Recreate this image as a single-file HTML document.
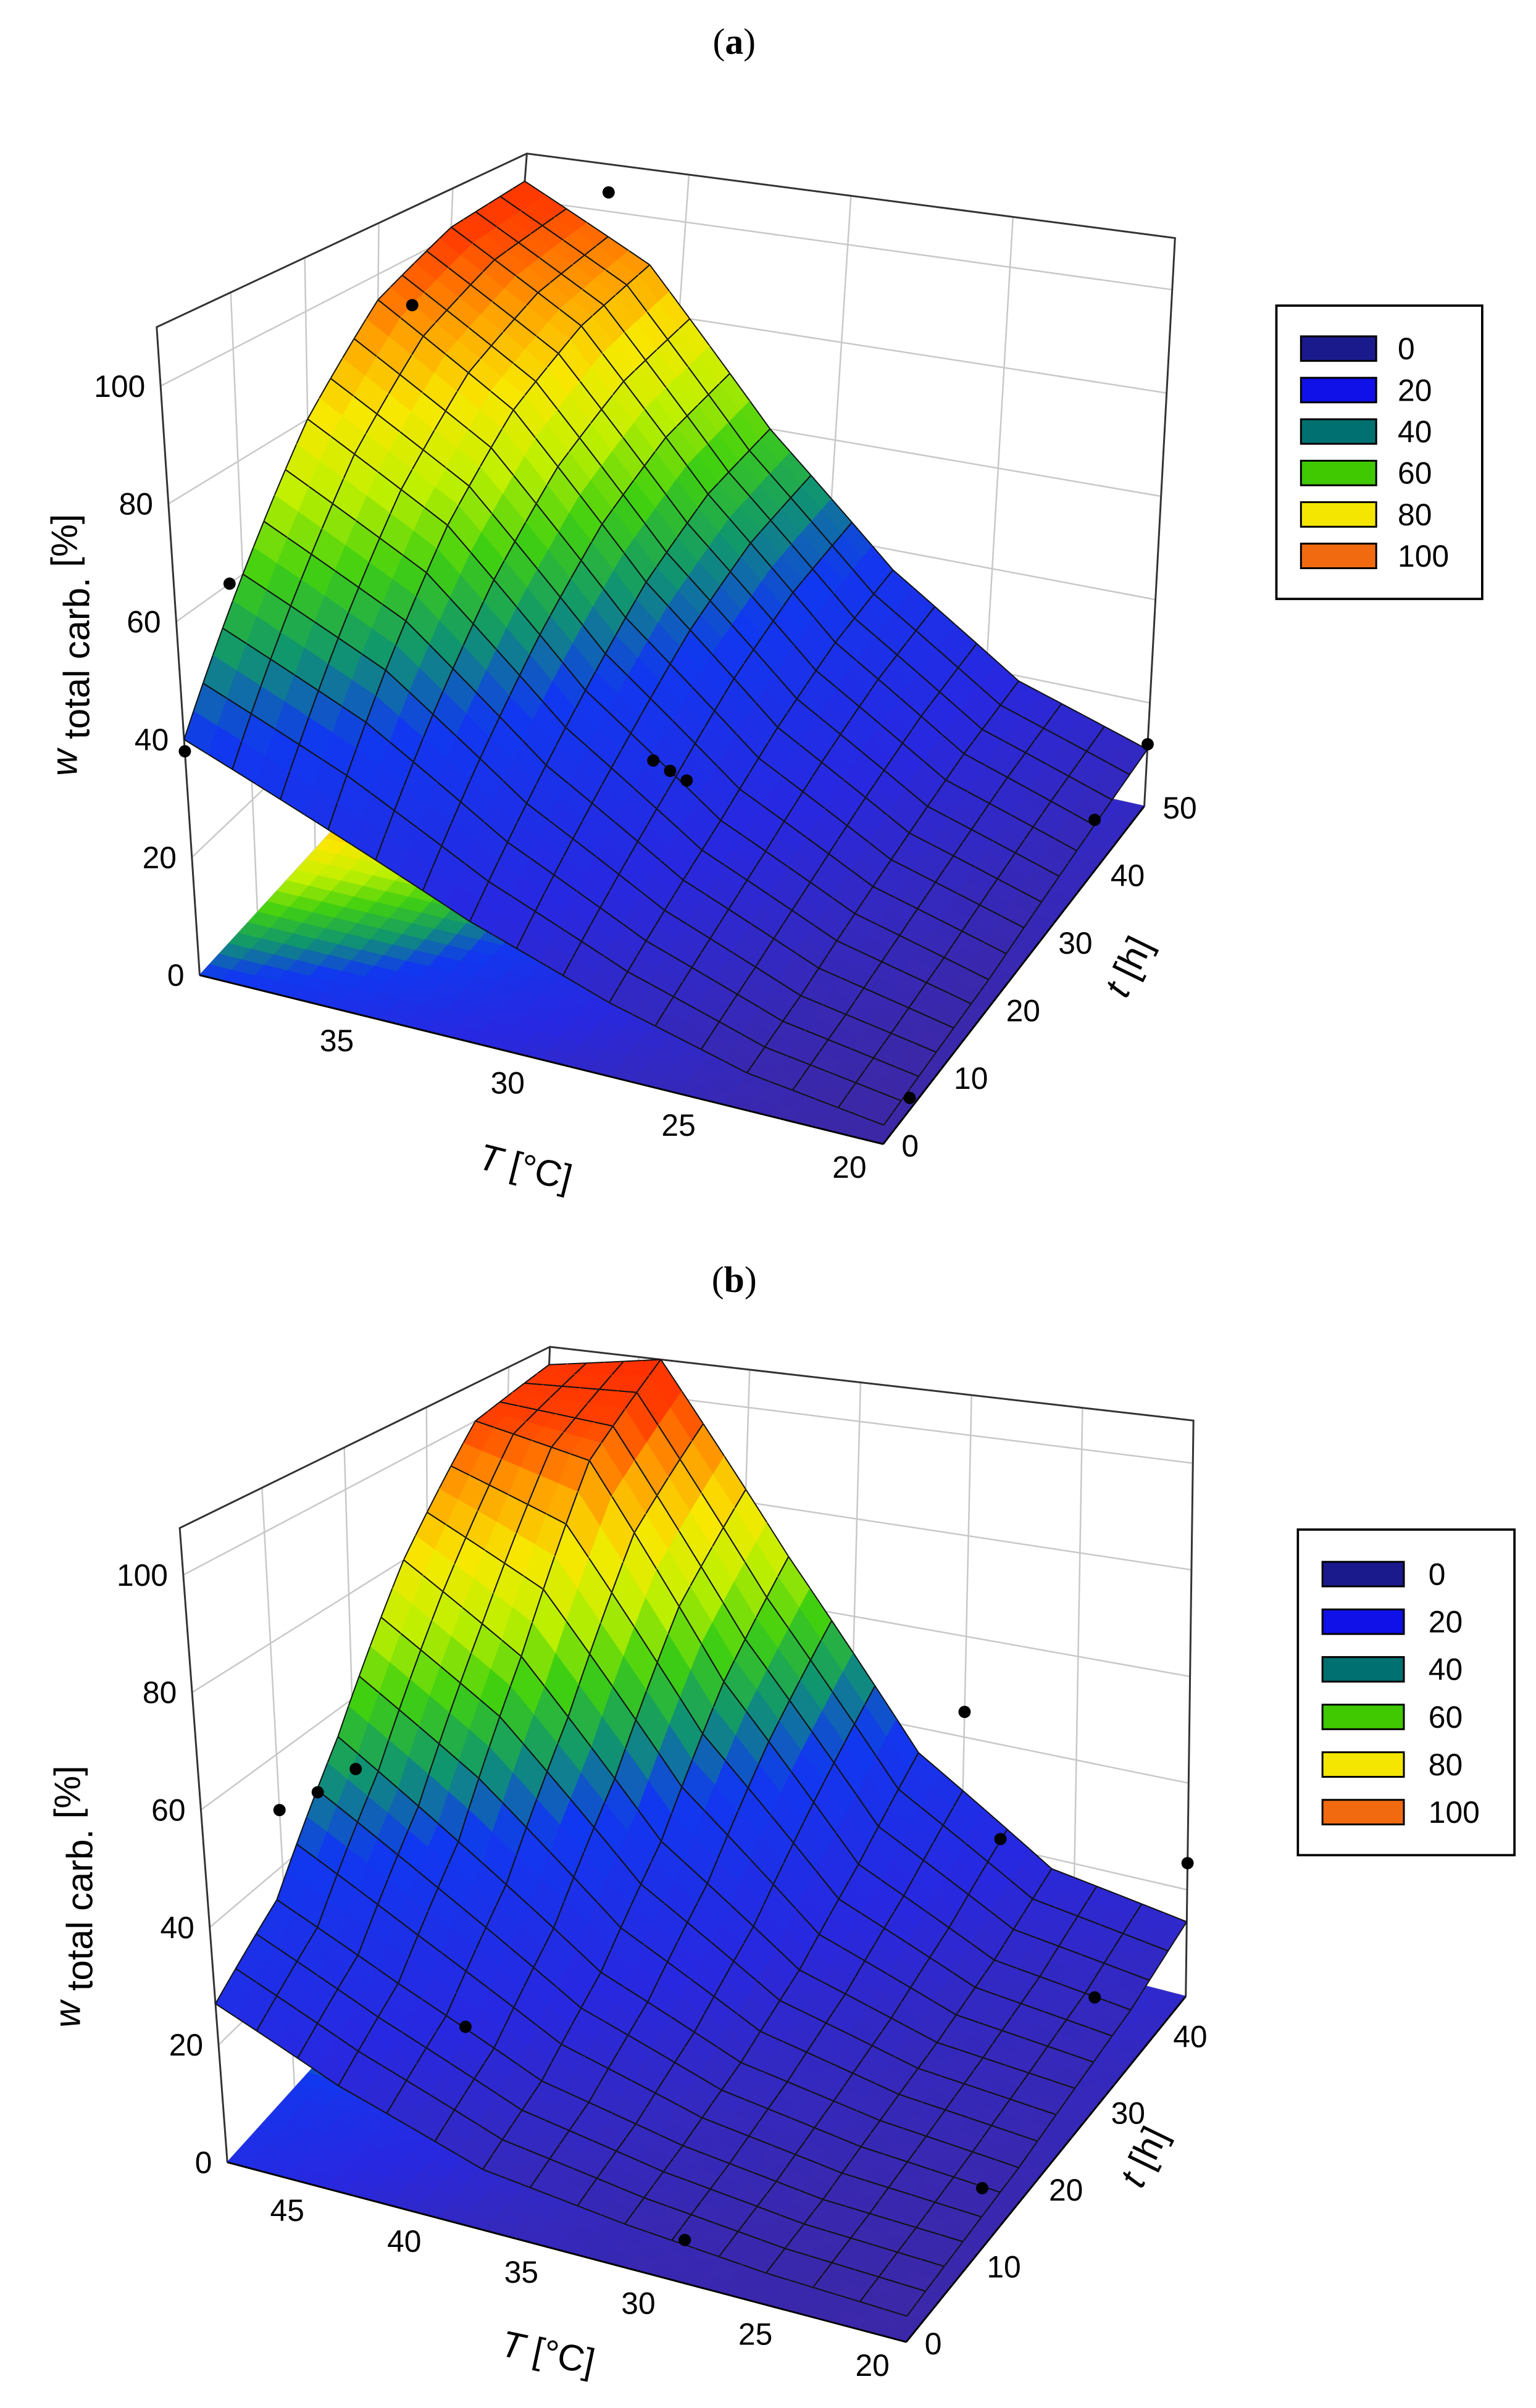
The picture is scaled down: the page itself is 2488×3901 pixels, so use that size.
<!DOCTYPE html>
<html><head><meta charset="utf-8"><style>
html,body{margin:0;padding:0;background:#fff}
svg{display:block}
text{font-family:"Liberation Sans",sans-serif;fill:#000}
</style></head><body>
<svg id="fig" xmlns="http://www.w3.org/2000/svg" width="2488" height="3901" viewBox="0 0 1000 1568">
<rect x="0" y="0" width="1000" height="1568" fill="#fff"/>
<text x="478" y="35" text-anchor="middle" style="font-family:'Liberation Serif',serif;font-size:24px">(<tspan font-weight="bold">a</tspan>)</text>
<text x="478" y="841" text-anchor="middle" style="font-family:'Liberation Serif',serif;font-size:24px">(<tspan font-weight="bold">b</tspan>)</text>
<g id="chartA"></g>
<g id="chartB"></g>
</svg>
<script>
// ---- Chart (a) data ----
const aTemps = [20, 24, 28, 32, 36, 40];
const aTimes = [0, 10, 20, 30, 40, 50];
const aZ = [ // rows by time, columns by temperature
  [3, 6, 12, 20, 30, 40],
  [4, 8, 17, 30, 48, 60],
  [5, 11, 22, 40, 65, 80],
  [7, 14, 28, 50, 78, 95],
  [9, 17, 33, 57, 86, 102],
  [11, 19, 36, 60, 90, 104]
];
const aPtT = [40, 40, 39, 37, 30, 30, 30, 20, 20, 20];
const aPtt = [0, 8, 30, 48, 20, 23, 26, 50, 40, 5];
const aPtZ = [38, 60, 95, 106, 30, 25, 20, 12, 10, 2];
const aZTicks = [0, 20, 40, 60, 80, 100];
const aTTicks = [20, 25, 30, 35];
const atTicks = [0, 10, 20, 30, 40, 50];
const aLegend = ['0', '20', '40', '60', '80', '100'];

// ---- Chart (b) data ----
const bTemps = [20, 26, 32, 38, 44, 49];
const bTimes = [0, 9, 18, 27, 36, 45];
const bZ = [
  [4, 5, 7, 10, 18, 27],
  [5, 6, 9, 14, 25, 35],
  [6, 8, 12, 22, 40, 55],
  [8, 10, 17, 35, 65, 80],
  [10, 13, 25, 55, 95, 100],
  [14, 18, 35, 70, 108, 104]
];
const bPtT = [49, 48, 47, 40, 30, 30, 20, 20, 20, 25];
const bPtt = [10, 12, 14, 5, 45, 2, 45, 30, 12, 33];
const bPtZ = [50, 52, 55, 26, 45, 4, 25, 20, 10, 40];
const bZTicks = [0, 20, 40, 60, 80, 100];
const bTTicks = [20, 25, 30, 35, 40, 45];
const btTicks = [0, 10, 20, 30, 40];
const bLegend = ['0', '20', '40', '60', '80', '100'];

const legendColors = ['#1a1a8c', '#1010e8', '#007070', '#40c800', '#f4e600', '#f26a10'];
const NS = 'http://www.w3.org/2000/svg';

const cStops = [[0,[64,40,154]],[20,[40,40,224]],[40,[16,56,240]],[50,[16,150,110]],[60,[64,208,16]],[70,[192,240,0]],[80,[248,232,0]],[90,[255,160,0]],[100,[255,64,0]],[110,[255,40,0]]];
function cmap(v){
  if(v<=cStops[0][0]) return 'rgb('+cStops[0][1].join(',')+')';
  for(let i=1;i<cStops.length;i++){
    if(v<=cStops[i][0]){
      const a=cStops[i-1],b=cStops[i],f=(v-a[0])/(b[0]-a[0]);
      return 'rgb('+[0,1,2].map(k=>Math.round(a[1][k]+(b[1][k]-a[1][k])*f)).join(',')+')';
    }
  }
  return 'rgb('+cStops[cStops.length-1][1].join(',')+')';
}
function mk(tag, attrs, parent){
  const e=document.createElementNS(NS,tag);
  for(const k in attrs) e.setAttribute(k,attrs[k]);
  parent.appendChild(e); return e;
}

function drawChart(g, cfg, temps, times, Z, ptT, ptt, ptZ, zTicks, TTicks, tTicks, legend){
  const Tmin=temps[0],Tmax=temps[temps.length-1],tmax=times[times.length-1],zmax=cfg.zmax;
  function P(T,t,z){
    const u=(T-Tmin)/(Tmax-Tmin),v=t/tmax,w=z/zmax;
    const c=cfg.c, out=[0,0];
    for(let k=0;k<2;k++){
      const fl=c.F[k]*(1-u)*(1-v)+c.L[k]*u*(1-v)+c.R[k]*(1-u)*v+c.B[k]*u*v;
      const tp=c.F2[k]*(1-u)*(1-v)+c.L2[k]*u*(1-v)+c.R2[k]*(1-u)*v+c.B2[k]*u*v;
      out[k]=fl*(1-w)+tp*w;
    }
    return out;
  }
  const pts=a=>a.map(p=>p[0].toFixed(2)+','+p[1].toFixed(2)).join(' ');
  const walls=mk('g',{},g);
  
  
  zTicks.forEach(z=>{
    mk('polyline',{points:pts([P(Tmax,0,z),P(Tmax,tmax,z),P(Tmin,tmax,z)]),fill:'none',stroke:'#c8c8c8','stroke-width':1},walls);
  });
  tTicks.forEach(t=>{ mk('line',{x1:P(Tmax,t,0)[0],y1:P(Tmax,t,0)[1],x2:P(Tmax,t,zmax)[0],y2:P(Tmax,t,zmax)[1],stroke:'#c8c8c8','stroke-width':1},walls); });
  TTicks.forEach(T=>{ mk('line',{x1:P(T,tmax,0)[0],y1:P(T,tmax,0)[1],x2:P(T,tmax,zmax)[0],y2:P(T,tmax,zmax)[1],stroke:'#c8c8c8','stroke-width':1},walls); });
  mk('polyline',{points:pts([P(Tmax,0,0),P(Tmax,0,zmax),P(Tmax,tmax,zmax),P(Tmin,tmax,zmax),P(Tmin,tmax,0)]),fill:'none',stroke:'#333','stroke-width':1.2},walls);
  mk('line',{x1:P(Tmax,tmax,0)[0],y1:P(Tmax,tmax,0)[1],x2:P(Tmax,tmax,zmax)[0],y2:P(Tmax,tmax,zmax)[1],stroke:'#333','stroke-width':1.2},walls);

  const S=6, nT=temps.length, nt=times.length;
  function val(fi,fj){
    const i=Math.min(Math.floor(fi),nT-2), j=Math.min(Math.floor(fj),nt-2);
    const a=fi-i,b=fj-j;
    return Z[j][i]*(1-a)*(1-b)+Z[j][i+1]*a*(1-b)+Z[j+1][i]*(1-a)*b+Z[j+1][i+1]*a*b;
  }
  function coord(fi,fj){
    const i=Math.min(Math.floor(fi),nT-2), j=Math.min(Math.floor(fj),nt-2);
    const a=fi-i,b=fj-j;
    return [temps[i]+(temps[i+1]-temps[i])*a, times[j]+(times[j+1]-times[j])*b];
  }
  const cells=[];
  for(let i=0;i<(nT-1)*S;i++) for(let j=0;j<(nt-1)*S;j++) cells.push([i,j]);
  cells.sort((p,q)=>(q[0]/((nT-1)*S)+q[1]/((nt-1)*S))-(p[0]/((nT-1)*S)+p[1]/((nt-1)*S)));
  const floor=mk('g',{},g);
  
  
  cells.forEach(([i,j])=>{
    const cs=[[i,j],[i+1,j],[i+1,j+1],[i,j+1]].map(([a,b])=>coord(a/S,b/S));
    const v=(val(i/S,j/S)+val((i+1)/S,j/S)+val((i+1)/S,(j+1)/S)+val(i/S,(j+1)/S))/4;
    const col=cmap(v);
    mk('polygon',{points:pts(cs.map(c=>P(c[0],c[1],0))),fill:col,stroke:col,'stroke-width':0.6},floor);
  });
  const surf=mk('g',{},g);
  
  
  const L=2;
  cells.forEach(([i,j])=>{
    const corners=[[i,j],[i+1,j],[i+1,j+1],[i,j+1]];
    const p3=corners.map(([a,b])=>{const c=coord(a/S,b/S);return P(c[0],c[1],val(a/S,b/S));});
    const v=corners.reduce((s,[a,b])=>s+val(a/S,b/S),0)/4;
    const col=cmap(v);
    mk('polygon',{points:pts(p3),fill:col,stroke:col,'stroke-width':0.6},surf);
    if(i%L===0) mk('line',{x1:p3[0][0],y1:p3[0][1],x2:p3[3][0],y2:p3[3][1],stroke:'#111','stroke-width':0.8},surf);
    if((i+1)%L===0) mk('line',{x1:p3[1][0],y1:p3[1][1],x2:p3[2][0],y2:p3[2][1],stroke:'#111','stroke-width':0.8},surf);
    if(j%L===0) mk('line',{x1:p3[0][0],y1:p3[0][1],x2:p3[1][0],y2:p3[1][1],stroke:'#111','stroke-width':0.8},surf);
    if((j+1)%L===0) mk('line',{x1:p3[3][0],y1:p3[3][1],x2:p3[2][0],y2:p3[2][1],stroke:'#111','stroke-width':0.8},surf);
  });
  for(let k=0;k<ptT.length;k++){
    const p=P(ptT[k],ptt[k],ptZ[k]);
    const c=mk('circle',{cx:p[0],cy:p[1],r:4,fill:'#000'},g);
    
    
  }
  mk('line',{x1:P(Tmax,0,0)[0],y1:P(Tmax,0,0)[1],x2:P(Tmin,0,0)[0],y2:P(Tmin,0,0)[1],stroke:'#000','stroke-width':1.2},g);
  mk('line',{x1:P(Tmin,0,0)[0],y1:P(Tmin,0,0)[1],x2:P(Tmin,tmax,0)[0],y2:P(Tmin,tmax,0)[1],stroke:'#000','stroke-width':1.2},g);
  zTicks.forEach(z=>{
    const p=P(Tmax,0,z);
    const t=mk('text',{x:p[0]-10,y:p[1]+7,'text-anchor':'end','font-size':20},g);
    
    
    t.textContent=z;
  });
  TTicks.forEach(T=>{
    const p=P(T,0,0);
    const t=mk('text',{x:p[0]-22,y:p[1]+22,'text-anchor':'middle','font-size':20},g);
    
    
    t.textContent=T;
  });
  tTicks.forEach(tt=>{
    const p=P(Tmin,tt,0);
    const t=mk('text',{x:p[0]+12,y:p[1]+8,'text-anchor':'start','font-size':20},g);
    
    
    t.textContent=tt;
  });
  const zt=mk('text',{transform:'translate('+cfg.zTitle[0]+','+cfg.zTitle[1]+') rotate(-90)','text-anchor':'middle','font-size':24},g);
  
  
  zt.innerHTML='<tspan font-style="italic">w</tspan><tspan dy="8"> total carb.</tspan><tspan dy="-8"> [%]</tspan>';
  const Tt=mk('text',{transform:'translate('+cfg.TTitle[0]+','+cfg.TTitle[1]+') rotate('+cfg.TTitle[2]+')','text-anchor':'middle','font-size':24},g);
  
  
  Tt.innerHTML='<tspan font-style="italic">T</tspan> [°C]';
  const tT=mk('text',{transform:'translate('+cfg.tTitle[0]+','+cfg.tTitle[1]+') rotate('+cfg.tTitle[2]+')','text-anchor':'middle','font-size':24},g);
  
  
  tT.innerHTML='<tspan font-style="italic">t</tspan> [h]';
  const lg=mk('g',{},g);
  
  
  const Lb=cfg.legend;
  mk('rect',{x:Lb.x,y:Lb.y,width:Lb.w,height:Lb.h,fill:'#fff',stroke:'#000','stroke-width':1.5},lg);
  legend.forEach((lab,k)=>{
    const y=Lb.y+Lb.top+k*Lb.step;
    const r=mk('rect',{x:Lb.x+Lb.sx,y:y-8,width:Lb.sw,height:16,fill:legendColors[k],stroke:'#000','stroke-width':1.2},lg);
    
    
    const t=mk('text',{x:Lb.x+Lb.tx,y:y+7,'font-size':20},lg);
    
    
    t.textContent=lab;
  });
}

drawChart(document.getElementById('chartA'),{
  zmax:110,
  c:{F:[575,745],L:[130,635],R:[745,525],B:[318,430],F2:[588,292],L2:[102,213],R2:[765,155],B2:[343,100]},
  zTitle:[50,420],TTitle:[340,768,14],tTitle:[742,633,-64],
  legend:{x:831,y:199,w:134,h:191,top:28,step:27,sx:16,sw:49,tx:79}
}, aTemps,aTimes,aZ,aPtT,aPtt,aPtZ,aZTicks,aTTicks,atTicks,aLegend);

drawChart(document.getElementById('chartB'),{
  zmax:108,
  c:{F:[590,1525],L:[148,1408],R:[772,1300],B:[345,1190],F2:[602,1070],L2:[117,995],R2:[777,925],B2:[358,877]},
  zTitle:[52,1235],TTitle:[355,1540,12],tTitle:[752,1408,-64],
  legend:{x:845,y:996,w:141,h:212,top:29,step:31,sx:16,sw:53,tx:85}
}, bTemps,bTimes,bZ,bPtT,bPtt,bPtZ,bZTicks,bTTicks,btTicks,bLegend);
</script>
</body></html>
